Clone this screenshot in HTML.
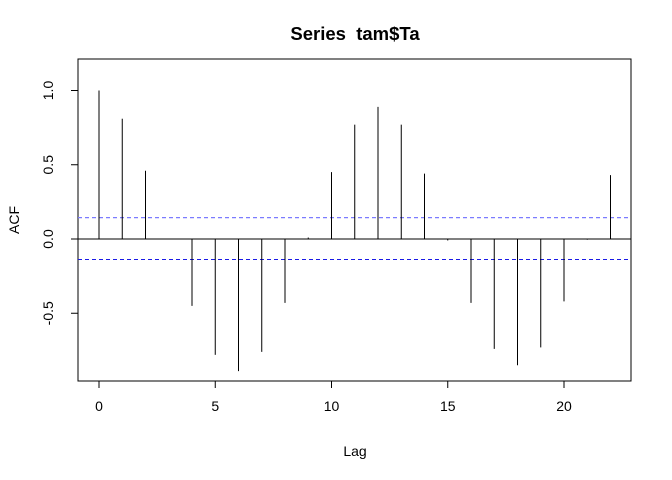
<!DOCTYPE html>
<html><head><meta charset="utf-8"><style>
body{margin:0;background:#fff;}
svg{display:block;font-family:"Liberation Sans",Arial,sans-serif;}
</style></head><body>
<svg id="chart" width="672" height="480">
<text x="355" y="40" text-anchor="middle" font-weight="bold" font-size="18.5">Series&#160; tam$Ta</text>
<rect x="78" y="59" width="553" height="322" fill="none" stroke="#000"/>
<text x="355" y="456" text-anchor="middle" font-size="14">Lag</text>
<text transform="translate(19,220) rotate(-90)" text-anchor="middle" font-size="14">ACF</text>
<g id="marks"></g>
</svg>
<script>
const lags=[0,1,2,3,4,5,6,7,8,9,10,11,12,13,14,15,16,17,18,19,20,21,22];
const acf=[1.0,0.81,0.46,0.0,-0.45,-0.78,-0.89,-0.76,-0.43,0.01,0.45,0.77,0.89,0.77,0.44,-0.01,-0.43,-0.74,-0.85,-0.73,-0.42,-0.005,0.43];
const ciUpper=0.144;
const ciLower=-0.135;
const xTicks=[0,5,10,15,20];
const yTicks=[-0.5,0.0,0.5,1.0];
const yTickLabels=["-0.5","0.0","0.5","1.0"];
const NS="http://www.w3.org/2000/svg";
const g=document.getElementById('marks');
const L=78,R=631,T=59,B=381;
const xs=v=>99+v*23.25;
const ys=v=>239-v*148.5;
function mk(t,a){const e=document.createElementNS(NS,t);for(const k in a)e.setAttribute(k,a[k]);g.appendChild(e);return e;}
let e=mk('line',{x1:L,x2:R,y1:ys(0),y2:ys(0),stroke:'#000'});


e=mk('line',{x1:L,x2:R,y1:ys(ciUpper),y2:ys(ciUpper),stroke:'#7b7bff','stroke-width':1.3,'stroke-dasharray':'4,3'});


e=mk('line',{x1:L,x2:R,y1:ys(ciLower)+0.5,y2:ys(ciLower)+0.5,stroke:'#1a1ae6','stroke-dasharray':'4,3'});


lags.forEach((l,i)=>{
 const b=mk('line',{x1:xs(l),x2:xs(l),y1:ys(0),y2:ys(acf[i]),stroke:'#000'});
 
 
});
xTicks.forEach(t=>{
 const k=mk('line',{x1:xs(t),x2:xs(t),y1:B,y2:B+7,stroke:'#000'});
 
 
 const tx=mk('text',{x:xs(t),y:B+30,'text-anchor':'middle','font-size':14});
 tx.textContent=t;
 
 
});
yTicks.forEach((t,i)=>{
 const k=mk('line',{x1:L-7,x2:L,y1:ys(t),y2:ys(t),stroke:'#000'});
 
 
 const tx=mk('text',{transform:`translate(53,${ys(t)}) rotate(-90)`,'text-anchor':'middle','font-size':14});
 tx.textContent=yTickLabels[i];
 
 
});
</script>
</body></html>
